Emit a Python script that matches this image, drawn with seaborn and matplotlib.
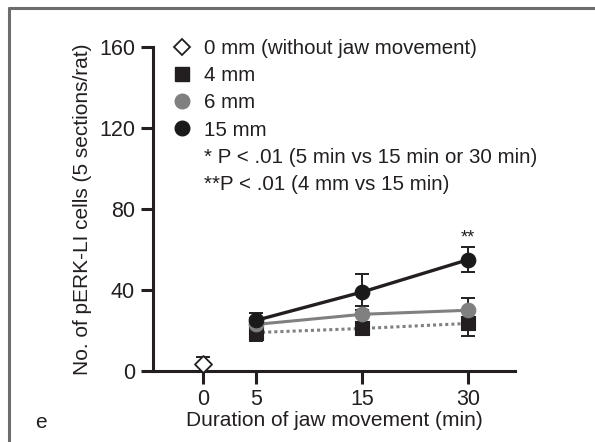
import matplotlib
matplotlib.use("Agg")
import matplotlib.pyplot as plt
from matplotlib.lines import Line2D
import seaborn as sns
import pandas as pd
import numpy as np

# ---- data ----
durations = [5, 15, 30]
dur_ticks = [0, 5, 15, 30]
dur_pos = {0: 0.0, 5: 0.5, 15: 1.5, 30: 2.5}   # broken axis spacing of the original

mm0_mean = [3.5]
mm0_sd = [3.5]
mm4_mean = [19, 21, 23.5]
mm4_sd = [4, 3, 6]
mm6_mean = [23, 28, 30]
mm6_sd = [3, 4, 6]
mm15_mean = [25, 39, 55]
mm15_sd = [3.5, 9, 6]

legend_labels = ["0 mm (without jaw movement)", "4 mm", "6 mm", "15 mm"]
note1 = "* P < .01 (5 min vs 15 min or 30 min)"
note2 = "**P < .01 (4 mm vs 15 min)"
y_ticks = [0, 40, 80, 120, 160]

sns.set_theme(style="ticks")
plt.rcParams['font.family'] = ['Liberation Sans', 'DejaVu Sans']

INK = "#231f20"
GRAY = "#808080"

fig = plt.figure(figsize=(5.95, 4.42), dpi=100)
ax = fig.add_axes([153/595, 1-371/442, (515-153)/595, (371-47)/442])

df = pd.DataFrame({
    "pos": [dur_pos[d] for d in durations] * 3,
    "val": mm4_mean + mm6_mean + mm15_mean,
    "grp": ["4 mm"] * 3 + ["6 mm"] * 3 + ["15 mm"] * 3,
})

# lines
sns.lineplot(data=df[df.grp == "4 mm"], x="pos", y="val", ax=ax, color=GRAY,
             lw=2.2, linestyle=(0, (1, 1)), legend=False, zorder=2)
sns.lineplot(data=df[df.grp == "6 mm"], x="pos", y="val", ax=ax, color=GRAY,
             lw=2.2, legend=False, zorder=2)
sns.lineplot(data=df[df.grp == "15 mm"], x="pos", y="val", ax=ax, color=INK,
             lw=2.4, legend=False, zorder=2)

xs = [dur_pos[d] for d in durations]
eb = dict(fmt="none", ecolor=INK, elinewidth=1.4, capsize=5, capthick=1.4, zorder=3)
ax.errorbar(xs, mm15_mean, yerr=mm15_sd, **eb)
ax.errorbar(xs, mm6_mean, yerr=mm6_sd, **eb)
ax.errorbar(xs, mm4_mean, yerr=mm4_sd, **eb)
ax.errorbar([dur_pos[0]], mm0_mean, yerr=[[0], mm0_sd], clip_on=False, **eb)

# markers
sns.scatterplot(x=xs, y=mm4_mean, ax=ax, marker="s", s=100, color=INK,
                edgecolor=INK, zorder=4, legend=False)
sns.scatterplot(x=xs, y=mm6_mean, ax=ax, marker="o", s=110, color=GRAY,
                edgecolor=GRAY, zorder=5, legend=False)
sns.scatterplot(x=xs, y=mm15_mean, ax=ax, marker="o", s=110, color="#1a1a1a",
                edgecolor="#1a1a1a", zorder=6, legend=False)
sns.scatterplot(x=[dur_pos[0]], y=mm0_mean, ax=ax, marker="D", s=75, color="white",
                edgecolor=INK, linewidth=1.3, zorder=6, legend=False, clip_on=False)

ax.text(dur_pos[30], mm15_mean[2] + mm15_sd[2] + 0.3, "**", ha="center", va="bottom",
        fontsize=13, color=INK)

# axes styling
ax.set_xlim(-0.47, 2.94)
ax.set_ylim(0, 160)
ax.set_xticks([dur_pos[d] for d in dur_ticks])
ax.set_xticklabels([str(d) for d in dur_ticks])
ax.set_yticks(y_ticks)
for s in ["top", "right"]:
    ax.spines[s].set_visible(False)
for s in ["left", "bottom"]:
    ax.spines[s].set_linewidth(2.2)
    ax.spines[s].set_color(INK)
ax.tick_params(axis="both", width=2.2, length=9, color=INK, labelsize=15.5,
               labelcolor=INK, pad=4)
ax.set_xlabel("Duration of jaw movement (min)", fontsize=15, color=INK, labelpad=1)
ax.set_ylabel("No. of pERK-LI cells (5 sections/rat)", fontsize=15, color=INK, labelpad=5)

# legend
handles = [
    Line2D([], [], marker="D", ls="none", mfc="white", mec=INK, ms=8.5, mew=1.3),
    Line2D([], [], marker="s", ls="none", mfc=INK, mec=INK, ms=10),
    Line2D([], [], marker="o", ls="none", mfc=GRAY, mec=GRAY, ms=10.5),
    Line2D([], [], marker="o", ls="none", mfc="#1a1a1a", mec="#1a1a1a", ms=10.5),
    Line2D([], [], ls="none"),
    Line2D([], [], ls="none"),
]
leg = ax.legend(handles, legend_labels + [note1, note2], loc="upper left",
                bbox_to_anchor=(0.03, 1.05), frameon=False, fontsize=14.8,
                handlelength=1.0, handletextpad=0.55, labelspacing=0.4,
                borderaxespad=0)
for t in leg.get_texts():
    t.set_color(INK)

fig.text(35/595, 1-423/442, "e", fontsize=15, color=INK, ha="left", va="center")

# panel frame (top and left lines)
fig.add_artist(Line2D([9/595, 1], [1-8/442, 1-8/442], color="#6d6d6d", lw=2.2,
                      transform=fig.transFigure))
fig.add_artist(Line2D([9/595, 9/595], [0, 1-8/442], color="#6d6d6d", lw=2.2,
                      transform=fig.transFigure))

fig.savefig("out.png", dpi=100)
